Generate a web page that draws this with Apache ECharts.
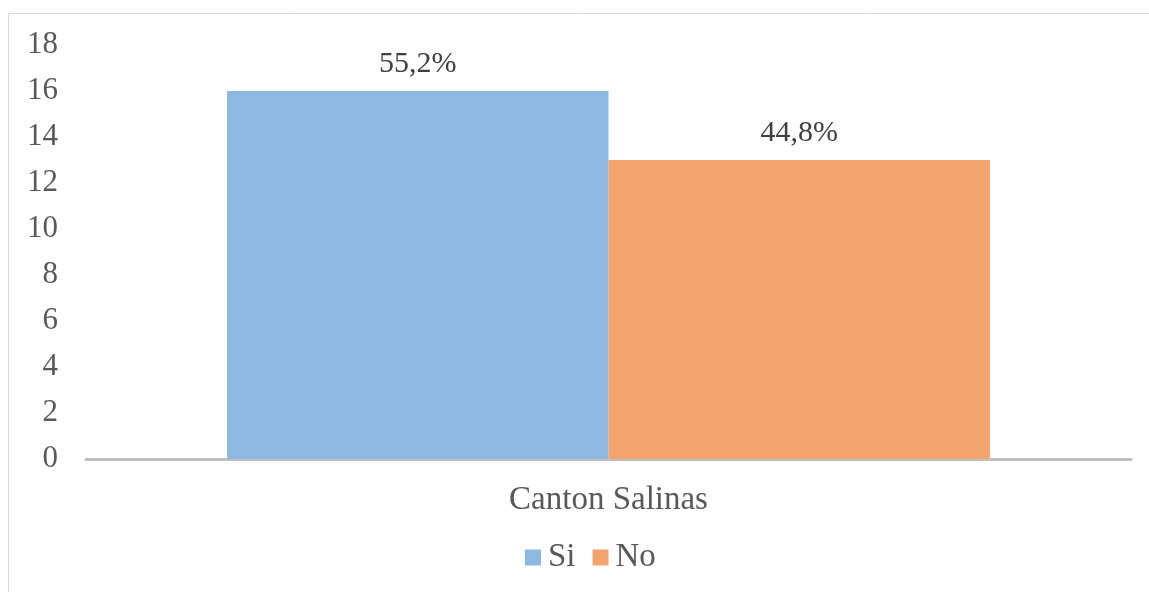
<!DOCTYPE html>
<html>
<head>
<meta charset="utf-8">
<script src="https://cdn.jsdelivr.net/npm/echarts@6/dist/echarts.min.js"></script>
<style>
html,body{margin:0;padding:0;background:#fff;}
#chart{width:1149px;height:592px;}
</style>
</head>
<body>
<div id="chart"></div>
<script>
const categories = ["Canton Salinas"];
const seriesNames = ["Si", "No"];
const siValues = [16];
const noValues = [13];
const percentLabels = ["55,2%", "44,8%"];
const yTicks = { min: 0, max: 18, interval: 2 };

const FONT = 'Liberation Serif';
const chart = echarts.init(document.getElementById('chart'));
const colors = ['#8DB8E2', '#F1A46E'];

function makeSeries(name, values, idx) {
  return {
    name: name,
    type: 'bar',
    data: values,
    barGap: '0%',
    barCategoryGap: '27%',
    itemStyle: { color: colors[idx] },
    label: {
      show: true,
      position: 'top',
      distance: 12,
      formatter: () => percentLabels[idx],
      fontFamily: FONT,
      fontSize: 30,
      color: '#404040'
    }
  };
}

chart.setOption({
  animation: false,
  backgroundColor: '#fff',
  textStyle: { fontFamily: FONT },
  graphic: [{
    type: 'rect',
    shape: { x: 8.5, y: 13.5, width: 1300, height: 800 },
    style: { fill: 'none', stroke: '#D9D9D9', lineWidth: 1 },
    silent: true
  }],
  grid: { left: 86, right: 18, top: 45, bottom: 133, containLabel: false },
  legend: {
    data: seriesNames,
    top: 541,
    left: 525,
    padding: 0,
    icon: 'rect',
    itemWidth: 16,
    itemHeight: 16,
    itemGap: 17,
    textStyle: { fontFamily: FONT, fontSize: 33, color: '#595959', padding: [0, 0, 0, 2] }
  },
  xAxis: {
    type: 'category',
    data: categories,
    axisLine: { show: true, lineStyle: { color: '#BFBFBF', width: 3 } },
    axisTick: { show: false },
    axisLabel: { fontFamily: FONT, fontSize: 33, color: '#595959', margin: 25 }
  },
  yAxis: {
    type: 'value',
    min: yTicks.min,
    max: yTicks.max,
    interval: yTicks.interval,
    axisLine: { show: false },
    axisTick: { show: false },
    splitLine: { show: false },
    axisLabel: { fontFamily: FONT, fontSize: 31, color: '#595959', margin: 28 }
  },
  series: [
    makeSeries(seriesNames[0], siValues, 0),
    makeSeries(seriesNames[1], noValues, 1)
  ]
});
</script>
</body>
</html>
